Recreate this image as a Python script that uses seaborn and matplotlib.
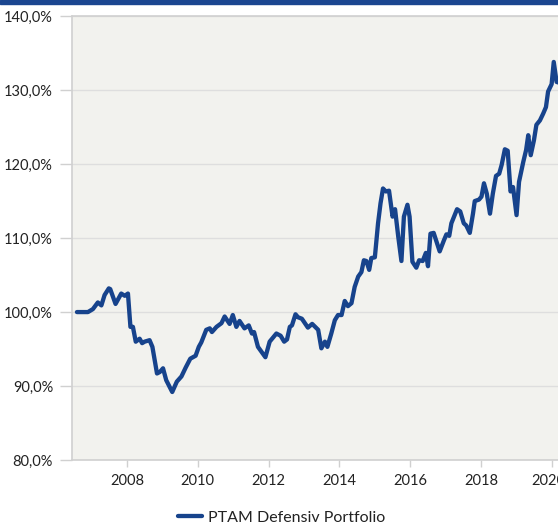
import numpy as np
import pandas as pd
import matplotlib
matplotlib.use("Agg")
import matplotlib.pyplot as plt
import matplotlib.transforms as mtransforms
from matplotlib.ticker import FuncFormatter
from matplotlib.patches import Rectangle
import seaborn as sns

# values (decimal year, index level in %)
dates = [2006.59, 2006.90, 2007.04, 2007.18, 2007.28, 2007.37, 2007.49, 2007.53,
         2007.68, 2007.84, 2007.94, 2008.03, 2008.10, 2008.17, 2008.25, 2008.36,
         2008.43, 2008.50, 2008.64, 2008.72, 2008.85, 2008.93, 2009.02, 2009.11,
         2009.28, 2009.41, 2009.54, 2009.66, 2009.79, 2009.94, 2010.03, 2010.10,
         2010.24, 2010.34, 2010.40, 2010.53, 2010.67, 2010.76, 2010.90, 2010.99,
         2011.09, 2011.18, 2011.32, 2011.44, 2011.53, 2011.59, 2011.70, 2011.91,
         2012.03, 2012.22, 2012.34, 2012.44, 2012.52, 2012.60, 2012.66, 2012.76,
         2012.83, 2012.94, 2013.11, 2013.23, 2013.40, 2013.49, 2013.59, 2013.66,
         2013.77, 2013.87, 2013.96, 2014.06, 2014.15, 2014.24, 2014.34, 2014.43,
         2014.53, 2014.62, 2014.69, 2014.76, 2014.84, 2014.90, 2015.00, 2015.09,
         2015.16, 2015.23, 2015.31, 2015.40, 2015.50, 2015.57, 2015.66, 2015.75,
         2015.82, 2015.92, 2015.98, 2016.06, 2016.17, 2016.25, 2016.35, 2016.44,
         2016.50, 2016.57, 2016.66, 2016.83, 2016.95, 2017.02, 2017.10, 2017.16,
         2017.32, 2017.41, 2017.51, 2017.58, 2017.68, 2017.77, 2017.82, 2017.94,
         2018.01, 2018.08, 2018.16, 2018.25, 2018.33, 2018.42, 2018.51, 2018.58,
         2018.67, 2018.75, 2018.83, 2018.90, 2019.00, 2019.07, 2019.19, 2019.27,
         2019.33, 2019.40, 2019.49, 2019.56, 2019.66, 2019.75, 2019.83, 2019.89,
         2019.99, 2020.05, 2020.13, 2020.20]
values = [100.0, 100.0, 100.4, 101.3, 100.9, 102.3, 103.2, 103.1,
          101.1, 102.5, 102.2, 102.5, 98.0, 98.0, 96.0, 96.4,
          95.8, 96.0, 96.2, 95.3, 91.7, 91.9, 92.4, 90.8,
          89.2, 90.6, 91.3, 92.5, 93.7, 94.1, 95.3, 95.9,
          97.6, 97.8, 97.3, 98.0, 98.5, 99.4, 98.4, 99.6,
          98.0, 98.8, 97.8, 98.2, 97.1, 97.3, 95.3, 93.9,
          96.0, 97.1, 96.8, 96.0, 96.3, 98.0, 98.2, 99.7,
          99.3, 99.1, 97.9, 98.4, 97.6, 95.1, 96.0, 95.3,
          97.1, 98.9, 99.6, 99.6, 101.5, 100.8, 101.2, 103.4,
          104.8, 105.4, 107.0, 106.9, 105.7, 107.3, 107.4, 112.0,
          114.7, 116.7, 116.3, 116.4, 112.9, 113.9, 110.2, 106.9,
          112.9, 114.5, 112.9, 106.8, 106.0, 107.0, 106.9, 108.0,
          106.2, 110.6, 110.7, 108.2, 109.7, 110.5, 110.3, 112.0,
          113.9, 113.6, 112.0, 111.7, 110.7, 113.3, 115.0, 115.2,
          115.6, 117.4, 116.0, 113.3, 116.0, 118.4, 118.7, 119.9,
          122.0, 121.8, 116.3, 116.9, 113.1, 117.6, 120.3, 121.9,
          123.9, 121.2, 123.2, 125.3, 125.9, 126.8, 127.7, 129.8,
          130.8, 133.8, 131.1, 131.0]
year_ticks = [2008, 2010, 2012, 2014, 2016, 2018, 2020]
pct_ticks = [80, 90, 100, 110, 120, 130, 140]
series_name = "PTAM Defensiv Portfolio"

df = pd.DataFrame({"date": dates, "value": values})

sns.set_theme(style="white")
plt.rcParams["font.family"] = ["Lato", "DejaVu Sans"]

blue = "#17438c"
grey = "#d0d0d0"

fig = plt.figure(figsize=(5.58, 5.27), dpi=100)
ax = fig.add_axes([0.129, 0.127, 0.871, 0.8425])
ax.set_facecolor("#f2f2ee")

sns.lineplot(data=df, x="date", y="value", ax=ax, color=blue, linewidth=3.1,
             label=series_name)

ax.set_xlim(2006.45, 2020.17)
ax.set_ylim(80, 140)
ax.set_xticks(year_ticks)
ax.set_yticks(pct_ticks)
ax.yaxis.set_major_formatter(FuncFormatter(lambda v, p: f"{v:.1f}%".replace(".", ",")))
ax.set_xlabel("")
ax.set_ylabel("")
ax.grid(axis="y", color="#dedede", linewidth=1)
ax.set_axisbelow(True)

for s in ["top", "right"]:
    ax.spines[s].set_visible(False)
for s in ["left", "bottom"]:
    ax.spines[s].set_color(grey)
    ax.spines[s].set_linewidth(1.2)

ax.tick_params(axis="y", length=8.6, width=1, color=grey, pad=5, labelsize=10.5,
               labelcolor="#222222", left=True)
ax.tick_params(axis="x", length=5, width=1, color=grey, pad=5, labelsize=10.5,
               labelcolor="#222222", bottom=True)

# last year label is nudged left, as in the original
last = ax.get_xticklabels()[-1]
last.set_transform(last.get_transform() +
                   mtransforms.ScaledTranslation(-4 / 100, 0, fig.dpi_scale_trans))

# 140% line runs across the top
ax.axhline(140, color=grey, linewidth=1.2, clip_on=False)

ax.get_legend().remove()
handles, labels = ax.get_legend_handles_labels()
fig.legend(handles, labels, loc="center", bbox_to_anchor=(0.505, 0.018),
           frameon=False, fontsize=11.5, handlelength=1.5, handletextpad=0.4,
           labelcolor="#222222")

# dark band at the very top
fig.patches.append(Rectangle((0, 1 - 3.5 / 527), 1, 3.5 / 527, transform=fig.transFigure,
                             color="#1b4690", zorder=5))

fig.savefig("out.png", dpi=100)
